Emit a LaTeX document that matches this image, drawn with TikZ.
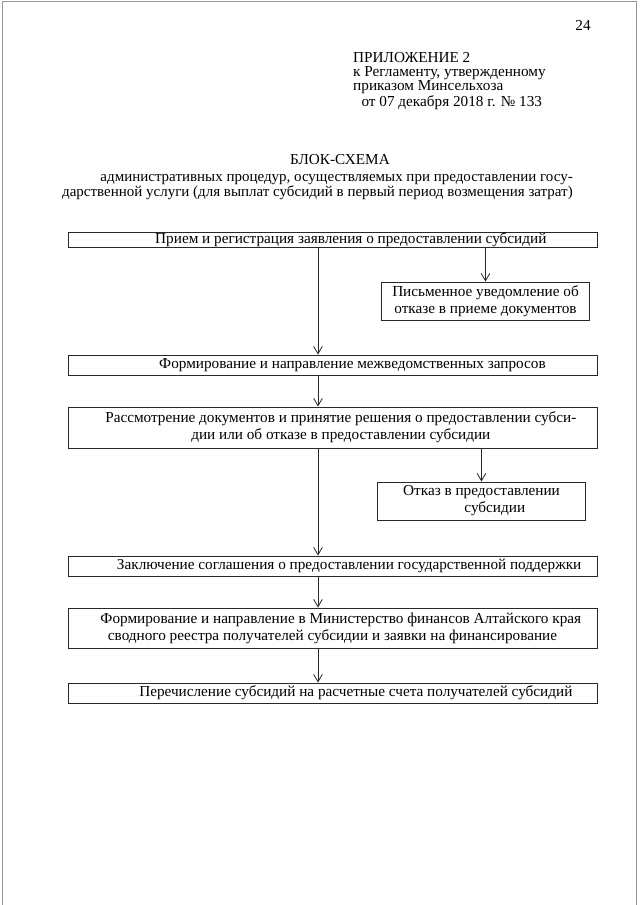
\documentclass[tikz,border=0pt]{standalone}
\usepackage{fontspec}
\setmainfont{Liberation Serif}
\usepackage{tikz}
\usetikzlibrary{arrows.meta}
\definecolor{boxline}{RGB}{40,40,40}
\definecolor{scanedge}{RGB}{150,150,150}
\tikzset{
  stagebox/.style={draw=boxline,line width=0.8pt,inner sep=0pt,align=center,
    minimum width=15.87cm,font=\fontsize{13}{14.5}\selectfont},
  refusebox/.style={draw=boxline,line width=0.8pt,inner sep=0pt,align=center,
    minimum width=6.25cm,minimum height=1.14cm,font=\fontsize{13}{14.5}\selectfont},
  flow/.style={-{Straight Barb[length=2.2mm,width=2.6mm]},line width=0.7pt,boxline},
  headtext/.style={font=\fontsize{13}{12}\selectfont,align=left,inner sep=0pt}
}

\begin{document}
\begin{tikzpicture}[x=0.03cm,y=-0.03cm]
  \useasboundingbox (0,0) rectangle (640,905);
  % scan edges
  \draw[scanedge,line width=0.5pt] (2,905) -- (2,1) -- (636,1) -- (636,905);

  \node[headtext] (pagenum) at (583,25) {24};
  \node[headtext,anchor=north west] (annex) at (353,52)
    {ПРИЛОЖЕНИЕ 2\\к Регламенту, утвержденному\\приказом Минсельхоза\\[1pt]
     \hspace*{0.25cm}от 07 декабря 2018 г. № 133};
  \node[headtext] (title) at (340,160) {БЛОК-СХЕМА};
  \node[headtext,font=\fontsize{12.8}{11.8}\selectfont,align=right,anchor=north east] (subtitle) at (573,174)
    {административных процедур, осуществляемых при предоставлении госу-\\
     дарственной услуги (для выплат субсидий в первый период возмещения затрат)};

  \coordinate (trunk) at (318,0);
  \node[stagebox,minimum height=0.45cm] (b1) at (332.5,239.5)
    {\hspace*{1.1cm}Прием и регистрация заявления о предоставлении субсидий};
  \node[refusebox] (n1) at (485.5,301)
    {Письменное уведомление об\\отказе в приеме документов};
  \node[stagebox,minimum height=0.6cm] (b2) at (332.5,365)
    {\hspace*{1.2cm}Формирование и направление межведомственных запросов};
  \node[stagebox,minimum height=1.23cm] (b3) at (332.5,427.5)
    {\hspace*{0.5cm}Рассмотрение документов и принятие решения о предоставлении субси-\\
     \hspace*{0.5cm}дии или об отказе в предоставлении субсидии};
  \node[refusebox] (n2) at (481.5,501)
    {Отказ в предоставлении\\\hspace*{0.8cm}субсидии};
  \node[stagebox,minimum height=0.6cm] (b4) at (332.5,566)
    {\hspace*{1.0cm}Заключение соглашения о предоставлении государственной поддержки};
  \node[stagebox,minimum height=1.2cm] (b5) at (332.5,628)
    {\hspace*{0.5cm}Формирование и направление в Министерство финансов Алтайского края\\
     сводного реестра получателей субсидии и заявки на финансирование};
  \node[stagebox,minimum height=0.6cm] (b6) at (332.5,693)
    {\hspace*{1.4cm}Перечисление субсидий на расчетные счета получателей субсидий};

  \draw[flow] (b1.south -| trunk) -- (b2.north -| trunk);
  \draw[flow] (b1.south -| n1.north) -- (n1.north);
  \draw[flow] (b2.south -| trunk) -- (b3.north -| trunk);
  \draw[flow] (b3.south -| trunk) -- (b4.north -| trunk);
  \draw[flow] (b3.south -| n2.north) -- (n2.north);
  \draw[flow] (b4.south -| trunk) -- (b5.north -| trunk);
  \draw[flow] (b5.south -| trunk) -- (b6.north -| trunk);
\end{tikzpicture}
\end{document}
